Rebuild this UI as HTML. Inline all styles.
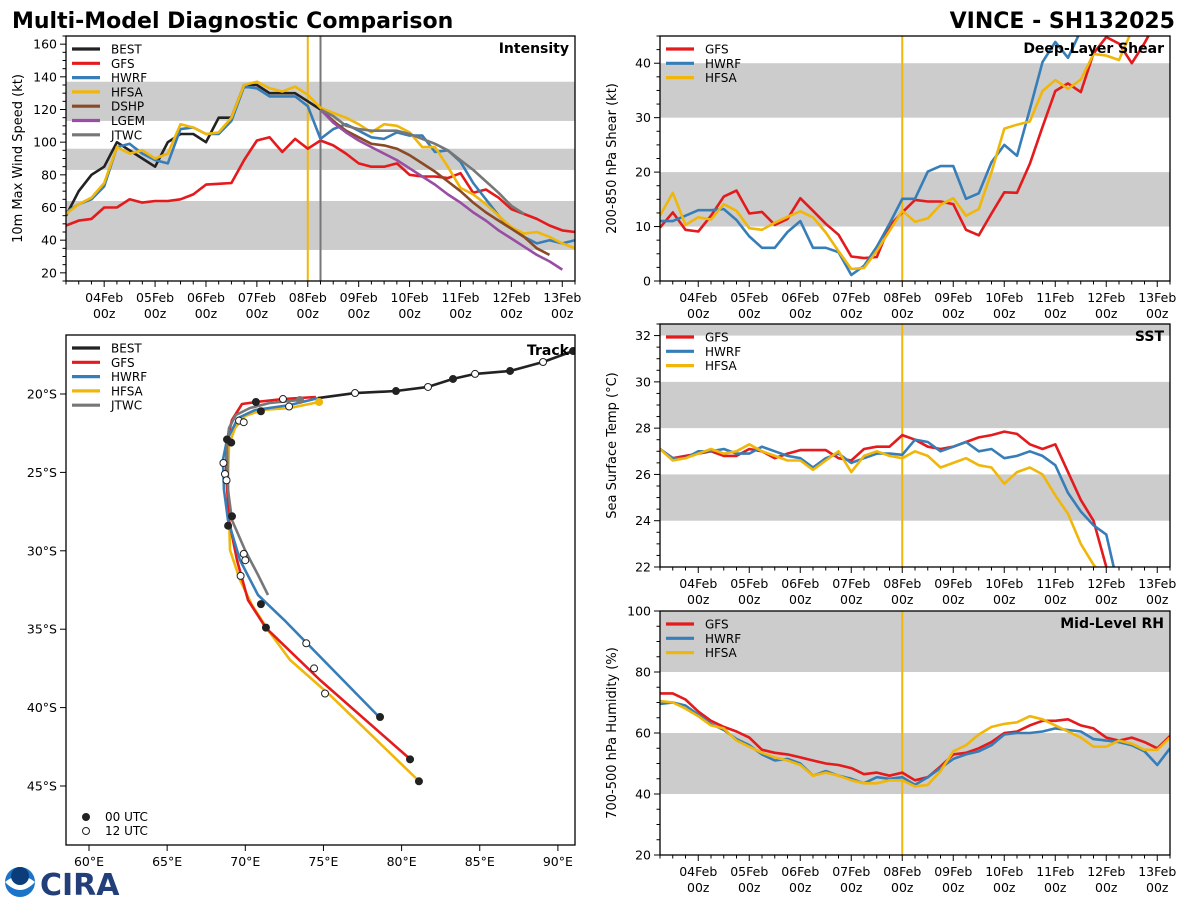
<!DOCTYPE html>
<html><head><meta charset="utf-8">
<style>
body{margin:0;background:#fff;width:1200px;height:900px;overflow:hidden;font-family:"Liberation Sans","DejaVu Sans",sans-serif;}
svg text{font-family:"DejaVu Sans","Liberation Sans",sans-serif;}
</style></head>
<body>
<svg id="chart" width="1200" height="900" xmlns="http://www.w3.org/2000/svg">
<text x="12" y="28" font-size="22" font-weight="bold">Multi-Model Diagnostic Comparison</text>
<text x="1175" y="28" font-size="22" font-weight="bold" text-anchor="end">VINCE - SH132025</text>
<g id="logo">
<circle cx="20" cy="882" r="15" fill="#1a75c9"/>
<path d="M5,882 Q20,870 35,882 Q20,898 5,882Z" fill="#fff"/>
<circle cx="20" cy="876" r="9" fill="#0b3d7a"/>
<text x="40" y="895" font-size="30" font-weight="bold" fill="#233f7a" font-family="Liberation Serif,serif">CIRA</text>
</g>
</svg>
<script>
// ===== data arrays =====
const intStart = 3.25; // days (Feb), 6-hourly
const bestInt = [55,70,80,85,100,95,90,85,100,105,105,100,115,115,135,135,130,130,130,125,120];
const gfsInt = [49,52,53,60,60,65,63,64,64,65,68,74,74.5,75,89,101,103,94,102,96,101,98,93,87,85,85,87,80,79,79,78,81,69,71,66,59,56,53,49,46,45];
const hwrfInt = [57,62,65,73,97,99,93,89,87,108,109,105,105,113,134,133,128,128,128,122,102,108,111,107,103,102,106,104,104,94,95,88,75,65,55,47,42,38,40,38,40];
const hfsaInt = [56,62,66,75,97,93,95,90,93,111,109,105,106,115,135,137,133,131,134,129,121,118,115,111,106,111,110,106,97,97,85,72,68,62,55,48,44,45,42,38,35];
const fcStart = 8.25;
const dshpInt = [120,113,107,103,99,98,96,92,87,82,76,70,63,57,52,47,42,35,31];
const lgemInt = [120,112,106,101,97,93,89,84,79,74,68,63,57,52,46,41,36,31,27,22];
const jtwcInt = [120,116,110,108,107,107,107,105,102,99,95,89,83,76,69,61,56];

const gfsShear = [9.8,12.6,9.4,9.1,12,15.5,16.6,12.4,12.7,10.3,11.4,15.2,12.9,10.5,8.5,4.5,4.2,4.4,10.1,12.6,14.9,14.6,14.6,14.1,9.4,8.4,12.4,16.3,16.2,21.5,28.3,34.9,36.3,34.7,41.8,44.8,43.6,40,43.7,48,50];
const hwrfShear = [11,11,12,13,13,13.2,11.2,8.2,6.1,6.1,9,11,6.1,6.1,5.3,1.1,2.8,6.3,10.5,15.1,15.1,20.1,21.1,21.1,15.1,16.1,21.8,25,23,31.5,40.2,43.9,41,46,48,48,50,50,52,52,53];
const hfsaShear = [12,16.2,10.3,11.7,11.3,14.1,12.9,9.7,9.4,10.7,11.8,12.8,11.7,8.9,5.5,2.2,2.4,5.5,9.2,12.9,10.9,11.5,14,15.2,12,13.2,20,28,28.7,29.3,34.9,36.9,35.3,37,41.7,41.4,40.6,46,48,48,48];

const gfsSst = [27.1,26.7,26.8,26.9,27.0,26.8,26.8,27.1,27.0,26.7,26.9,27.05,27.05,27.05,26.7,26.6,27.1,27.2,27.2,27.7,27.5,27.2,27.1,27.2,27.4,27.6,27.7,27.85,27.75,27.3,27.1,27.3,26.1,24.9,24.0,22.0,20.5];
const hwrfSst = [27.1,26.7,26.7,27.0,27.0,27.1,26.9,26.9,27.2,27.0,26.8,26.7,26.3,26.7,26.9,26.5,26.7,26.9,26.9,26.85,27.5,27.4,27.0,27.2,27.4,27.0,27.1,26.7,26.8,27.0,26.8,26.4,25.2,24.4,23.8,23.4,21.0];
const hfsaSst = [27.1,26.6,26.7,26.9,27.1,26.9,27.0,27.3,27.0,26.8,26.6,26.6,26.2,26.6,27.0,26.1,26.8,27.0,26.8,26.7,27.0,26.8,26.3,26.5,26.7,26.4,26.3,25.6,26.1,26.3,26.0,25.1,24.3,23.0,22.1,21.5];

const gfsRh = [73,73,71,67,64,62,60.5,58.5,54.5,53.5,53,52,51,50,49.5,48.5,46.5,47,46,47,44.5,45.5,49,53,53.5,55,57,60,60.5,62.5,64,64,64.5,62.5,61.5,58.5,57.5,58.5,57,55,59];
const hwrfRh = [69.5,70,69,66,63,61,58,56,53,51,51.5,50,46,47.5,46,45,43.5,45.5,45,45.5,43,45.5,48.5,51.5,53,54,56,59.5,60,60,60.5,61.5,61,60.5,58,57.5,57,56,54,49.5,55];
const hfsaRh = [70.5,70,68,65.5,62.5,61.5,57.5,55.5,53.5,52,51,49.5,46,47,46,44.5,43.5,43.5,44.5,44.5,42.5,43,47.5,54,56,59.5,62,63,63.5,65.5,64.5,62.5,60.5,58.5,55.5,55.5,57.5,56.5,54.5,54.5,58.5];

const dayLabels = ['04Feb','05Feb','06Feb','07Feb','08Feb','09Feb','10Feb','11Feb','12Feb','13Feb'];
const dayTicks = [4,5,6,7,8,9,10,11,12,13];

// track data (lon E, lat S)
const bestLon = [91.6,90.97,89.05,86.94,84.70,83.29,81.69,79.64,77.02,74.65];
const bestLat = [17.0,17.26,17.96,18.53,18.72,19.04,19.55,19.81,19.94,20.26];
const bestMarkFilled = [false,true,false,true,false,true,false,true,false,false];
const gfsLon = [74.52,72.41,70.68,69.79,69.15,68.83,68.77,68.96,69.47,70.17,71.32,74.78,80.54];
const gfsLat = [20.19,20.32,20.51,20.64,21.66,22.93,24.85,28.04,30.59,33.14,34.92,38.24,43.28];
const hwrfLon = [74.65,72.86,70.62,69.53,68.83,68.57,68.64,68.89,69.66,70.81,72.48,78.62];
const hwrfLat = [20.26,20.70,21.02,21.53,22.93,24.21,26.12,28.04,30.59,32.82,34.41,40.66];
const hfsaLon = [74.72,72.86,71.07,69.98,69.34,68.96,68.89,69.02,69.66,70.43,71.45,72.86,75.42,81.11];
const hfsaLat = [20.51,20.89,21.02,21.40,22.17,23.25,25.48,29.95,31.86,33.46,35.05,36.96,39.20,44.68];
const jtwcLon = [73.50,71.58,70.30,69.40,68.96,68.83,68.89,69.15,69.98,70.81,71.45];
const jtwcLat = [20.38,20.57,20.89,21.34,22.17,23.25,26.12,28.04,29.95,31.54,32.82];
const fcMarkLon = [70.68,71.0,68.83,69.1,69.15,68.9,71.0,71.32,80.54,78.62,81.11,72.41,72.8,69.6,69.9,68.6,68.7,68.8,69.9,70.0,69.7,73.9,74.4,75.1];
const fcMarkLat = [20.51,21.1,22.9,23.1,27.8,28.4,33.4,34.9,43.3,40.6,44.7,20.32,20.8,21.7,21.8,24.4,25.1,25.5,30.2,30.6,31.6,35.9,37.5,39.1];
const fcMarkFilled = [true,true,true,true,true,true,true,true,true,true,true,false,false,false,false,false,false,false,false,false,false,false,false,false];

// ===== drawing =====
const svg = document.getElementById('chart');
const NS = 'http://www.w3.org/2000/svg';
function mk(tag, attrs, parent){const e=document.createElementNS(NS,tag);for(const k in attrs)e.setAttribute(k,attrs[k]);(parent||svg).appendChild(e);return e;}
const COL = {BEST:'#222222',GFS:'#e41a1c',HWRF:'#377eb8',HFSA:'#f0b70a',DSHP:'#8b4a26',LGEM:'#984ea3',JTWC:'#777777'};
let clipId = 0;

function timePanel(p){
  const g = mk('g',{});
  
  
  const xs = t => p.x0 + (t-3.25)/10*(p.x1-p.x0);
  const ys = v => p.y1 - (v-p.vmin)/(p.vmax-p.vmin)*(p.y1-p.y0);
  p.bands.forEach(b=>{
    const r = mk('rect',{x:p.x0,y:ys(Math.min(b[1],p.vmax)),width:p.x1-p.x0,height:ys(b[0])-ys(Math.min(b[1],p.vmax)),fill:'#cccccc'},g);
    
    
  });
  clipId++;
  const cp = mk('clipPath',{id:'c'+clipId},g);
  mk('rect',{x:p.x0,y:p.y0,width:p.x1-p.x0,height:p.y1-p.y0},cp);
  p.vlines.forEach(v=>{
    const l = mk('line',{x1:xs(v[0]),x2:xs(v[0]),y1:p.y0,y2:p.y1,stroke:v[1],'stroke-width':2},g);
    
    
  });
  const lg = mk('g',{'clip-path':'url(#c'+clipId+')'},g);
  p.series.forEach(s=>{
    const pts = s.data.map((v,i)=>xs(s.start+i*0.25).toFixed(1)+','+ys(v).toFixed(1)).join(' ');
    const pl = mk('polyline',{points:pts,fill:'none',stroke:COL[s.label],'stroke-width':2.6,'stroke-linejoin':'round'},lg);
    
    
  });
  mk('rect',{x:p.x0,y:p.y0,width:p.x1-p.x0,height:p.y1-p.y0,fill:'none',stroke:'#000','stroke-width':1.3},g);
  for(let v=p.vmin; v<=p.vmax+1e-6; v+=p.minor){
    const y=ys(v);
    const isMaj = Math.abs(v/p.major-Math.round(v/p.major))<1e-6;
    mk('line',{x1:p.x0,x2:p.x0-(isMaj?6:3.5),y1:y,y2:y,stroke:'#000','stroke-width':1},g);
    if(isMaj){
      const t=mk('text',{x:p.x0-9,y:y+4.5,'font-size':12.5,'text-anchor':'end'},g);
      t.textContent = v;
      
      
    }
  }
  for(let t=3.25;t<=13.25+1e-6;t+=0.25){
    const x=xs(t); const maj=Math.abs(t-Math.round(t))<1e-6;
    mk('line',{x1:x,x2:x,y1:p.y1,y2:p.y1+(maj?6:3.5),stroke:'#000','stroke-width':1},g);
  }
  dayTicks.forEach((d,i)=>{
    const t1=mk('text',{x:xs(d),y:p.y1+21,'font-size':12.5,'text-anchor':'middle'},g);
    t1.textContent=dayLabels[i];
    
    
    const t2=mk('text',{x:xs(d),y:p.y1+37,'font-size':12.5,'text-anchor':'middle'},g);
    t2.textContent='00z';
    
    
  });
  const yl=mk('text',{x:0,y:0,'font-size':13,'text-anchor':'middle',transform:`translate(${p.x0-44},${(p.y0+p.y1)/2}) rotate(-90)`},g);
  yl.textContent=p.ylabel;
  
  
  const tt=mk('text',{x:p.x1-6,y:p.y0+17,'font-size':14,'font-weight':'bold','text-anchor':'end'},g);
  tt.textContent=p.title;
  
  
  legend(g,p.x0+6,p.y0+13,p.series.map(s=>s.label));
}
function legend(g,x,y,labels){
  labels.forEach((lab,i)=>{
    const e=mk('g',{},g);
    
    
    mk('line',{x1:x,x2:x+28,y1:y+i*14.3,y2:y+i*14.3,stroke:COL[lab],'stroke-width':3.2},e);
    const t=mk('text',{x:x+39,y:y+i*14.3+4.5,'font-size':12},e);
    t.textContent=lab;
  });
}

timePanel({name:'intensity-panel',x0:66,x1:575,y0:36,y1:281,vmin:15,vmax:165,major:20,minor:5,
  bands:[[34,64],[83,96],[113,137]],vlines:[[8,'#f0b70a'],[8.25,'#777777']],
  ylabel:'10m Max Wind Speed (kt)',title:'Intensity',
  series:[{label:'BEST',start:intStart,data:bestInt},{label:'GFS',start:intStart,data:gfsInt},{label:'HWRF',start:intStart,data:hwrfInt},{label:'HFSA',start:intStart,data:hfsaInt},{label:'DSHP',start:fcStart,data:dshpInt},{label:'LGEM',start:fcStart,data:lgemInt},{label:'JTWC',start:fcStart,data:jtwcInt}]});
timePanel({name:'shear-panel',x0:660,x1:1170,y0:36,y1:281,vmin:0,vmax:45,major:10,minor:2.5,
  bands:[[10,20],[30,40]],vlines:[[8,'#f0b70a']],ylabel:'200-850 hPa Shear (kt)',title:'Deep-Layer Shear',
  series:[{label:'GFS',start:intStart,data:gfsShear},{label:'HWRF',start:intStart,data:hwrfShear},{label:'HFSA',start:intStart,data:hfsaShear}]});
timePanel({name:'sst-panel',x0:660,x1:1170,y0:324,y1:567,vmin:22,vmax:32.5,major:2,minor:0.5,
  bands:[[24,26],[28,30],[32,34]],vlines:[[8,'#f0b70a']],ylabel:'Sea Surface Temp (°C)',title:'SST',
  series:[{label:'GFS',start:intStart,data:gfsSst},{label:'HWRF',start:intStart,data:hwrfSst},{label:'HFSA',start:intStart,data:hfsaSst}]});
timePanel({name:'rh-panel',x0:660,x1:1170,y0:611,y1:855,vmin:20,vmax:100,major:20,minor:5,
  bands:[[40,60],[80,100]],vlines:[[8,'#f0b70a']],ylabel:'700-500 hPa Humidity (%)',title:'Mid-Level RH',
  series:[{label:'GFS',start:intStart,data:gfsRh},{label:'HWRF',start:intStart,data:hwrfRh},{label:'HFSA',start:intStart,data:hfsaRh}]});

(function(){
  const x0=66,x1=575,y0=335,y1=845;
  const g=mk('g',{});
  
  
  const lx = lon => 89+(lon-60)*15.63;
  const ly = lat => 394+(lat-20)*15.68;
  const cp=mk('clipPath',{id:'trk'},g);
  mk('rect',{x:x0,y:y0,width:x1-x0,height:y1-y0},cp);
  const lg=mk('g',{'clip-path':'url(#trk)'},g);
  function track(lab,lons,lats){
    const pl=mk('polyline',{points:lons.map((v,i)=>lx(v).toFixed(1)+','+ly(lats[i]).toFixed(1)).join(' '),fill:'none',stroke:COL[lab],'stroke-width':2.6,'stroke-linejoin':'round'},lg);
    
    
  }
  track('HFSA',hfsaLon,hfsaLat);
  track('GFS',gfsLon,gfsLat);
  track('HWRF',hwrfLon,hwrfLat);
  track('JTWC',jtwcLon,jtwcLat);
  track('BEST',bestLon,bestLat);
  mk('circle',{cx:lx(hfsaLon[0]),cy:ly(hfsaLat[0]),r:4,fill:COL.HFSA},lg);
  mk('circle',{cx:lx(jtwcLon[0]),cy:ly(jtwcLat[0]),r:4,fill:COL.JTWC},lg);
  function marker(lon,lat,filled){
    const c=mk('circle',{cx:lx(lon),cy:ly(lat),r:3.5,fill:filled?'#222':'#fff',stroke:'#222','stroke-width':1},lg);
    
    
  }
  bestLon.forEach((v,i)=>{ if(i>0&&i<bestLon.length-1) marker(v,bestLat[i],bestMarkFilled[i]); });
  fcMarkLon.forEach((v,i)=>marker(v,fcMarkLat[i],fcMarkFilled[i]));
  mk('rect',{x:x0,y:y0,width:x1-x0,height:y1-y0,fill:'none',stroke:'#000','stroke-width':1.3},g);
  for(let lon=60;lon<=90;lon+=5){
    const x=lx(lon);
    mk('line',{x1:x,x2:x,y1:y1,y2:y1+6,stroke:'#000'},g);
    const t=mk('text',{x:x,y:y1+21,'font-size':12.5,'text-anchor':'middle'},g);
    t.textContent=lon+'°E';
    
    
  }
  for(let lat=20;lat<=45;lat+=5){
    const y=ly(lat);
    mk('line',{x1:x0,x2:x0-6,y1:y,y2:y,stroke:'#000'},g);
    const t=mk('text',{x:x0-9,y:y+4.5,'font-size':12.5,'text-anchor':'end'},g);
    t.textContent=lat+'°S';
    
    
  }
  const tt=mk('text',{x:x1-6,y:y0+20,'font-size':14,'font-weight':'bold','text-anchor':'end'},g);
  tt.textContent='Track';
  
  
  legend(g,x0+6,y0+13,['BEST','GFS','HWRF','HFSA','JTWC']);
  [['00 UTC',true],['12 UTC',false]].forEach((m,i)=>{
    const e=mk('g',{},g);
    
    
    mk('circle',{cx:x0+20,cy:817+i*14,r:3.5,fill:m[1]?'#222':'#fff',stroke:'#222'},e);
    const t=mk('text',{x:x0+39,y:821+i*14,'font-size':12},e);
    t.textContent=m[0];
  });
})();
</script>
</body></html>
